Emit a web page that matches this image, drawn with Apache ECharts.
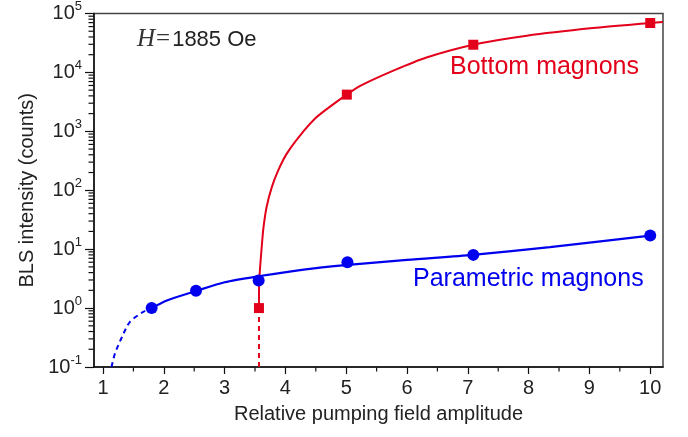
<!DOCTYPE html>
<html>
<head>
<meta charset="utf-8">
<script src="https://cdn.jsdelivr.net/npm/echarts@6/dist/echarts.min.js"></script>
<style>html,body{margin:0;padding:0;background:#fff;}#c{width:688px;height:437px;}</style>
</head>
<body>
<div id="c"></div>
<script>
// ---- data ----
var xTicks = [1, 2, 3, 4, 5, 6, 7, 8, 9, 10];
var xMinorTicks = [1.5, 2.5, 3.5, 4.5, 5.5, 6.5, 7.5, 8.5, 9.5];
var yMinorTicks = [0.2,0.3,0.4,0.5,0.6,0.7,0.8,0.9, 2,3,4,5,6,7,8,9, 20,30,40,50,60,70,80,90,
                   200,300,400,500,600,700,800,900, 2000,3000,4000,5000,6000,7000,8000,9000,
                   20000,30000,40000,50000,60000,70000,80000,90000];

var paramX = [1.8, 2.53, 3.56, 5.02, 7.09, 10.0];
var paramY = [1.0, 1.97, 2.95, 6.0, 8.0, 17];
var bottomX = [3.565, 5.01, 7.09, 10.0];
var bottomY = [1.0, 4200, 29500, 69000];

var paramFitX = [1.8, 2.05, 2.53, 3.0, 3.58, 4.3, 5.03, 6.0, 7.08, 8.35, 10.0];
var paramFitY = [1.0, 1.35, 1.95, 2.75, 3.5, 4.5, 5.4, 6.6, 8.0, 10.8, 17];
var paramDashX = [1.14, 1.197, 1.31, 1.44, 1.66, 1.8];
var paramDashY = [0.1, 0.17, 0.32, 0.58, 0.86, 1.0];

var bottomFitX = [3.565, 3.57, 3.61, 3.64, 3.69, 3.775, 3.88, 4.02, 4.24, 4.51, 4.79, 5.01, 5.23, 5.775, 6.32, 7.09, 7.97, 9.06, 10.0, 10.21];
var bottomFitY = [1.0, 2.95, 10.8, 23.6, 51.6, 112, 215, 414, 848, 1730, 2900, 4200, 5900, 10700, 17900, 29500, 41900, 56500, 69000, 72000];
var bottomDashX = [3.565, 3.565];
var bottomDashY = [1.0, 0.1];

var xMin = 0.852, xMax = 10.21;
var yMin = 0.1, yMax = 100000;

var RED = '#e2001a';
var BLUE = '#0000ee';
var FONT = '"Liberation Sans", Arial, sans-serif';

function zip(a, b) { return a.map(function (v, i) { return [v, b[i]]; }); }

var chart = echarts.init(document.getElementById('c'));

var minorYData = yMinorTicks.map(function (v) { return [xMin, v]; });
var minorXData = xMinorTicks.map(function (v) { return [v, yMin]; });

chart.setOption({
  animation: false,
  backgroundColor: '#fff',
  grid: { left: 94, right: 25, top: 13, bottom: 70, show: true, borderColor: '#444', borderWidth: 1.5, backgroundColor: 'transparent' },
  xAxis: {
    type: 'value', min: xMin, max: xMax,
    name: 'Relative pumping field amplitude', nameLocation: 'middle', nameGap: 37,
    nameTextStyle: { fontFamily: FONT, fontSize: 20, color: '#222' },
    axisLine: { show: true, lineStyle: { color: '#111', width: 1.5 } },
    axisTick: { show: true, inside: false, length: 7, lineStyle: { color: '#111', width: 1.2 }, customValues: xTicks },
    axisLabel: { fontFamily: FONT, fontSize: 20, color: '#222', margin: 11, customValues: xTicks },
    splitLine: { show: false }
  },
  yAxis: {
    type: 'log', logBase: 10, min: yMin, max: yMax, interval: 1,
    name: 'BLS intensity (counts)', nameLocation: 'middle', nameGap: 55,
    nameTextStyle: { fontFamily: FONT, fontSize: 20, color: '#222' },
    axisLine: { show: true, lineStyle: { color: '#111', width: 1.5 } },
    axisTick: { show: true, inside: false, length: 9, lineStyle: { color: '#111', width: 1.2 } },
    axisLabel: {
      margin: 12,
      formatter: function (v) {
        var e = Math.round(Math.log(v) / Math.LN10);
        return '{b|10}{s|' + e + '}';
      },
      rich: {
        b: { fontFamily: FONT, fontSize: 20, color: '#222' },
        s: { fontFamily: FONT, fontSize: 13, color: '#222', padding: [0, 0, 14, 0] }
      }
    },
    splitLine: { show: false }
  },
  series: [
    {
      type: 'scatter', name: 'yMinor', silent: true, clip: false, z: 6,
      data: minorYData, symbol: 'rect', symbolSize: [5, 1.2], symbolOffset: [-3, 0],
      itemStyle: { color: '#111', opacity: 1 }
    },
    {
      type: 'scatter', name: 'xMinor', silent: true, clip: false, z: 6,
      data: minorXData, symbol: 'rect', symbolSize: [1.2, 4], symbolOffset: [0, 2.5],
      itemStyle: { color: '#111', opacity: 1 }
    },
    {
      type: 'line', name: 'bottomFit', data: zip(bottomFitX, bottomFitY), smooth: 0.25,
      showSymbol: false, symbol: 'none', lineStyle: { color: RED, width: 2 }, z: 3
    },
    {
      type: 'line', name: 'bottomDash', data: zip(bottomDashX, bottomDashY),
      showSymbol: false, symbol: 'none', lineStyle: { color: RED, width: 2, type: [5, 4] }, z: 3
    },
    {
      type: 'line', name: 'paramFit', data: zip(paramFitX, paramFitY), smooth: 0.25,
      showSymbol: false, symbol: 'none', lineStyle: { color: BLUE, width: 2.2 }, z: 4
    },
    {
      type: 'line', name: 'paramDash', data: zip(paramDashX, paramDashY), smooth: 0.25,
      showSymbol: false, symbol: 'none', lineStyle: { color: BLUE, width: 2, type: [5, 4] }, z: 4
    },
    {
      type: 'scatter', name: 'Parametric', data: zip(paramX, paramY), symbol: 'circle', symbolSize: 12,
      itemStyle: { color: BLUE, opacity: 1 }, z: 5
    },
    {
      type: 'scatter', name: 'Bottom', data: zip(bottomX, bottomY), symbol: 'rect', symbolSize: 10,
      itemStyle: { color: RED, opacity: 1 }, z: 5
    }
  ],
  graphic: [
    {
      type: 'text', left: 137, top: 27, z: 10,
      style: {
        text: '{i|H}{e|=}{n|1885 Oe}',
        rich: {
          i: { fontFamily: '"Liberation Serif", "Times New Roman", serif', fontStyle: 'italic', fontSize: 25, fill: '#333' },
          e: { fontFamily: '"Liberation Serif", "Times New Roman", serif', fontSize: 25, fill: '#333', padding: [0, 2, 0, 1] },
          n: { fontFamily: FONT, fontSize: 22, fill: '#222' }
        }
      }
    },
    {
      type: 'text', left: 450, top: 55, z: 10,
      style: { text: 'Bottom magnons', fontFamily: FONT, fontSize: 25, fill: RED }
    },
    {
      type: 'text', left: 413, top: 267, z: 10,
      style: { text: 'Parametric magnons', fontFamily: FONT, fontSize: 25, fill: BLUE }
    }
  ]
});
</script>
</body>
</html>
